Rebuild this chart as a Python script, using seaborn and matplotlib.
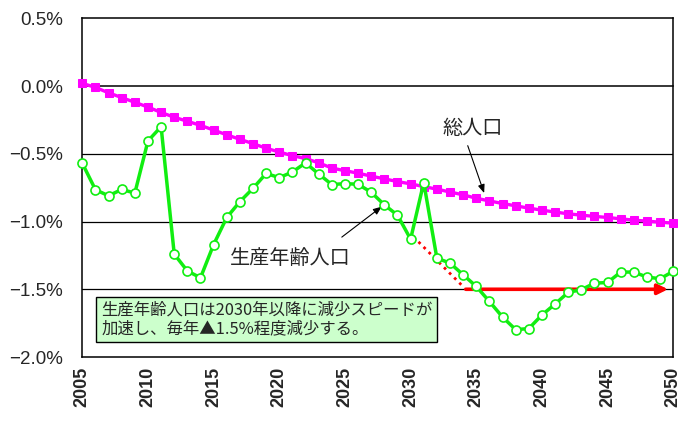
import matplotlib
matplotlib.use("Agg")
import matplotlib.pyplot as plt
import pandas as pd
import seaborn as sns

sns.set_style("white")
plt.rcParams['font.family'] = ['Liberation Sans', 'Noto Sans CJK JP', 'DejaVu Sans']
plt.rcParams['axes.unicode_minus'] = True

# data (annual change, %)
years = list(range(2005, 2051))
total_pop = [0.02, -0.01, -0.05, -0.085, -0.12, -0.155, -0.195, -0.23, -0.26, -0.29,
             -0.325, -0.36, -0.393, -0.425, -0.459, -0.487, -0.514, -0.535, -0.567, -0.605,
             -0.625, -0.643, -0.665, -0.685, -0.705, -0.722, -0.742, -0.761, -0.782, -0.803,
             -0.828, -0.848, -0.867, -0.884, -0.901, -0.916, -0.93, -0.943, -0.953, -0.962,
             -0.97, -0.98, -0.99, -0.997, -1.005, -1.012]
working_pop = [-0.57, -0.765, -0.81, -0.763, -0.79, -0.405, -0.30, -1.24, -1.365, -1.415,
               -1.17, -0.97, -0.853, -0.755, -0.645, -0.676, -0.634, -0.567, -0.649, -0.727,
               -0.72, -0.725, -0.784, -0.877, -0.953, -1.13, -0.712, -1.27, -1.307, -1.393,
               -1.479, -1.59, -1.705, -1.798, -1.79, -1.69, -1.609, -1.523, -1.503, -1.455,
               -1.45, -1.373, -1.373, -1.41, -1.422, -1.368]
trend_x = [2030.6, 2034.1]
trend_y = [-1.15, -1.49]
arrow_x = [2034.2, 2049.6]
arrow_y = [-1.5, -1.5]
yticks = [0.5, 0.0, -0.5, -1.0, -1.5, -2.0]

df = pd.DataFrame({'year': years, 'total': total_pop, 'working': working_pop})

fig, ax = plt.subplots(figsize=(6.78, 4.22), dpi=100)
fig.subplots_adjust(left=0.1214, right=0.993, top=0.9566, bottom=0.154)

for y in [-0.5, -1.0, -1.5]:
    ax.axhline(y, color='black', lw=0.9, zorder=1)

sns.lineplot(data=df, x='year', y='total', ax=ax, color='#ff00ff', lw=2.4,
             marker='s', markersize=5.5, markeredgecolor='#ff00ff', clip_on=False, zorder=3)
sns.lineplot(data=df, x='year', y='working', ax=ax, color='#11ee11', lw=2.5,
             marker='o', markersize=6.5, markerfacecolor='white', markeredgecolor='#11ee11',
             markeredgewidth=1.2, clip_on=False, zorder=4)

# trend + arrow
ax.plot(trend_x, trend_y, color='red', lw=2, ls=(0, (1, 1.6)), zorder=2)
ax.annotate('', xy=(arrow_x[1], arrow_y[1]), xytext=(arrow_x[0], arrow_y[0]),
            arrowprops=dict(arrowstyle='-|>,head_length=0.6,head_width=0.3',
                            color='red', lw=2.6, shrinkA=0, shrinkB=0), zorder=2)

# labels with arrows
ax.text(2034.7, -0.31, '総人口', fontsize=14.5, family=['Noto Sans CJK JP'],
        ha='center', va='center')
ax.annotate('', xy=(2035.6, -0.79), xytext=(2034.35, -0.44),
            arrowprops=dict(arrowstyle='-|>,head_length=0.5,head_width=0.2',
                            color='black', lw=0.8, shrinkA=0, shrinkB=0))
ax.text(2020.8, -1.27, '生産年齢人口', fontsize=14.5, family=['Noto Sans CJK JP'],
        ha='center', va='center')
ax.annotate('', xy=(2027.8, -0.89), xytext=(2024.76, -1.115),
            arrowprops=dict(arrowstyle='-|>,head_length=0.5,head_width=0.2',
                            color='black', lw=0.8, shrinkA=0, shrinkB=0))

# note box
ax.text(0.032, 0.163, '生産年齢人口は2030年以降に減少スピードが\n加速し、毎年▲1.5%程度減少する。',
        transform=ax.transAxes, fontsize=11.8, family=['Noto Sans CJK JP', 'DejaVu Sans'],
        ha='left', va='top', linespacing=1.1, zorder=5,
        bbox=dict(boxstyle='square,pad=0.3', fc='#ccffcc', ec='black', lw=1))

ax.set_xlim(2005, 2050)
ax.set_ylim(-2.0, 0.5)
ax.set_yticks(yticks)
ax.set_yticklabels([f'{v:.1f}%'.replace('-', '\u2212') for v in yticks], fontsize=13.5)
ax.tick_params(axis='y', direction='out', length=4, width=0.9, color='black', pad=10)

# x axis crosses at 0 with year ticks pointing up
ax.spines['bottom'].set_position(('data', 0))
ax.set_xticks(years)
ax.tick_params(axis='x', direction='in', length=6, width=0.9, color='black', labelbottom=False)
ax.set_xlabel('')
ax.set_ylabel('')
for s in ax.spines.values():
    s.set_color('black')
    s.set_linewidth(1.1)

sec = ax.secondary_xaxis('bottom')
sec.set_xticks(list(range(2005, 2051, 5)))
sec.set_xticklabels([str(y) for y in range(2005, 2051, 5)], rotation=90,
                    fontsize=13, fontweight='bold')
sec.tick_params(length=0, pad=7)
sec.spines['bottom'].set_color('black')
sec.spines['bottom'].set_linewidth(1.1)

plt.savefig('out.png', dpi=100)
